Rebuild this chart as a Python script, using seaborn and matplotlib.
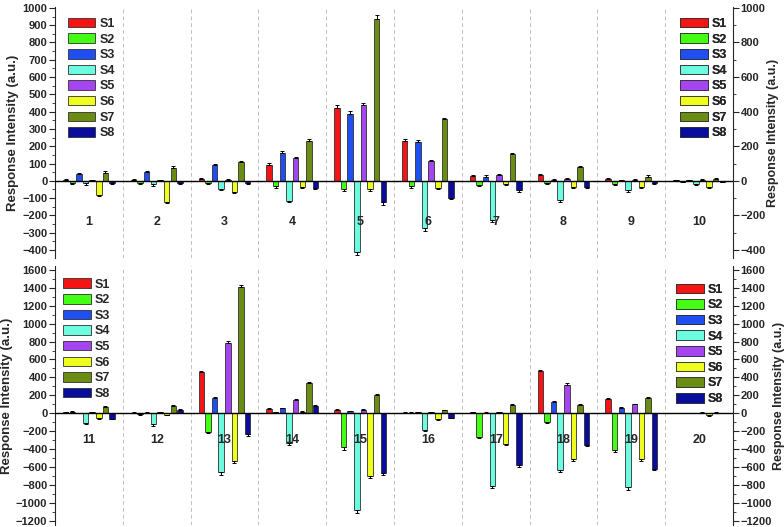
import numpy as np
import pandas as pd
import matplotlib
matplotlib.use("Agg")
import matplotlib.pyplot as plt
from matplotlib.ticker import MultipleLocator
import seaborn as sns

# Valores (grupos 1-20)
grupos = [str(i) for i in range(1, 21)]
sensores = ["S1", "S2", "S3", "S4", "S5", "S6", "S7", "S8"]
cores = ["#f41414", "#44ff14", "#1f4ff0", "#6cfce0", "#a445f0", "#eeff1e", "#6b8c12", "#0a0c9c"]

s1 = [5, 5, 10, 92, 422, 230, 30, 32, 10, 3, 10, 5, 462, 48, 35, 5, 10, 468, 158, 3]
s2 = [-15, -15, -15, -30, -45, -30, -25, -15, -20, -5, 15, -10, -205, 10, -383, 5, -264, -100, -416, 3]
s3 = [40, 50, 90, 163, 387, 222, 25, 5, 3, 3, 3, 5, 167, 55, 20, 10, 5, 128, 63, 3]
s4 = [-15, -20, -45, -115, -410, -270, -225, -112, -55, -20, -110, -125, -660, -335, -1080, -186, -810, -632, -830, 3]
s5 = [3, 3, 5, 130, 437, 112, 35, 12, 5, 5, 10, 10, 785, 150, 40, 10, 10, 320, 97, 5]
s6 = [-80, -120, -65, -35, -48, -40, -20, -35, -35, -38, -55, -20, -536, 15, -700, -64, -346, -510, -510, -25]
s7 = [48, 75, 108, 232, 935, 356, 154, 80, 25, 10, 67, 80, 1407, 335, 208, 33, 90, 90, 171, 5]
s8 = [-10, -10, -10, -40, -125, -97, -55, -35, -15, -5, -60, 37, -235, 85, -670, -50, -584, -353, -625, 3]

# Barras de erro (estimadas)
e1 = [6, 8, 6, 12, 15, 12, 6, 6, 5, 4, 8, 6, 12, 10, 8, 4, 6, 12, 10, 4]
e2 = [6, 6, 6, 10, 12, 10, 6, 6, 6, 4, 8, 6, 15, 6, 25, 4, 15, 12, 15, 4]
e3 = [6, 6, 8, 10, 15, 15, 6, 4, 4, 4, 4, 4, 10, 8, 6, 4, 4, 10, 8, 4]
e4 = [8, 8, 8, 10, 20, 20, 10, 10, 8, 6, 15, 15, 30, 20, 40, 12, 25, 25, 30, 4]
e5 = [4, 4, 6, 8, 15, 10, 6, 6, 4, 4, 6, 6, 20, 10, 8, 6, 6, 12, 8, 4]
e6 = [8, 8, 8, 8, 10, 8, 6, 6, 6, 6, 8, 6, 25, 6, 20, 8, 10, 20, 20, 6]
e7 = [8, 8, 8, 10, 25, 10, 8, 6, 6, 6, 8, 8, 30, 15, 10, 6, 8, 10, 10, 4]
e8 = [6, 6, 6, 8, 15, 10, 8, 6, 6, 4, 8, 6, 15, 8, 20, 6, 15, 12, 15, 4]

valores = [s1, s2, s3, s4, s5, s6, s7, s8]
erros = [e1, e2, e3, e4, e5, e6, e7, e8]

linhas = []
for sensor, vals, errs in zip(sensores, valores, erros):
    for g, v, e in zip(grupos, vals, errs):
        linhas.append({"grupo": g, "sensor": sensor, "valor": v, "erro": e})
df = pd.DataFrame(linhas)

sns.set_style("ticks")
plt.rcParams["font.family"] = ["Liberation Sans", "DejaVu Sans"]
plt.rcParams["font.weight"] = "bold"
plt.rcParams["axes.labelweight"] = "bold"

fig = plt.figure(figsize=(7.84, 5.27), dpi=100)
W, H = 784, 527
ax_top = fig.add_axes([55 / W, 1 - 258 / H, 678 / W, 251 / H])
ax_bot = fig.add_axes([55 / W, 1 - 525 / H, 678 / W, 259 / H])

paineis = [
    (ax_top, grupos[:10], (-446, 1005), 100, 50, 200, -235, [(0.019, 0.957), (0.922, 0.957)]),
    (ax_bot, grupos[10:], (-1250, 1645), 200, 100, 200, -305, [(0.012, 0.952), (0.916, 0.932)]),
]

for ax, gs, ylim, passo, passo_min, passo_dir, y_rot, pos_leg in paineis:
    sub = df[df["grupo"].isin(gs)]
    sns.barplot(data=sub, x="grupo", y="valor", hue="sensor", order=gs,
                hue_order=sensores, palette=cores, saturation=1, width=0.78, gap=0.18,
                edgecolor="#303030", linewidth=0.6, errorbar=None, ax=ax)

    # barras de erro só para fora
    for cont, sensor in zip(ax.containers, sensores):
        errs = sub[sub["sensor"] == sensor].set_index("grupo").loc[gs, "erro"].values
        for barra, err in zip(cont, errs):
            x = barra.get_x() + barra.get_width() / 2
            y = barra.get_y() + barra.get_height()
            if barra.get_height() >= 0:
                yerr = [[0], [err]]
            else:
                yerr = [[err], [0]]
            ax.errorbar(x, y, yerr=yerr, fmt="none", ecolor="black",
                        elinewidth=0.7, capsize=1.3, capthick=0.7)

    ax.axhline(0, color="black", lw=1.0, zorder=3)
    for i in range(len(gs) - 1):
        ax.axvline(i + 0.5, color="#c0c0c0", ls=(0, (4, 3)), lw=0.7, zorder=0)
    for i, g in enumerate(gs):
        ax.text(i, y_rot, g, ha="center", va="center", fontsize=9, fontweight="bold")

    ax.set_xlim(-0.5, len(gs) - 0.5)
    ax.set_ylim(*ylim)
    ax.set_xticks([])
    ax.set_xlabel("")
    ax.set_ylabel("Response Intensity (a.u.)", fontsize=9.5, fontweight="bold", labelpad=2)
    ax.yaxis.set_major_locator(MultipleLocator(passo))
    ax.yaxis.set_minor_locator(MultipleLocator(passo_min))
    ax.tick_params(axis="y", which="major", length=4, width=0.8, labelsize=8, pad=1.5)
    ax.tick_params(axis="y", which="minor", length=2, width=0.6)
    for lbl in ax.get_yticklabels():
        lbl.set_fontweight("bold")
    for s in ["top", "bottom", "right"]:
        ax.spines[s].set_visible(False)

    ax2 = ax.twinx()
    ax2.set_ylim(*ylim)
    ax2.yaxis.set_major_locator(MultipleLocator(passo_dir))
    ax2.yaxis.set_minor_locator(MultipleLocator(passo_dir / 2))
    ax2.tick_params(axis="y", which="major", length=4, width=0.8, labelsize=8, pad=1.5)
    ax2.tick_params(axis="y", which="minor", length=2, width=0.6)
    ax2.set_ylabel("Response Intensity (a.u.)", fontsize=9, fontweight="bold", labelpad=1)
    for lbl in ax2.get_yticklabels():
        lbl.set_fontweight("bold")
    for s in ["top", "bottom", "left"]:
        ax2.spines[s].set_visible(False)

    handles, labels = ax.get_legend_handles_labels()
    ax.get_legend().remove()
    for (lx, ly) in pos_leg:
        leg = ax.legend(handles, labels, loc="upper left", bbox_to_anchor=(lx, ly),
                        frameon=False, handlelength=2.2, handleheight=0.8,
                        labelspacing=0.28, handletextpad=0.35, borderpad=0, borderaxespad=0,
                        prop={"weight": "bold", "size": 9})
        ax.add_artist(leg)

plt.savefig("out.png", dpi=100)
plt.close()
